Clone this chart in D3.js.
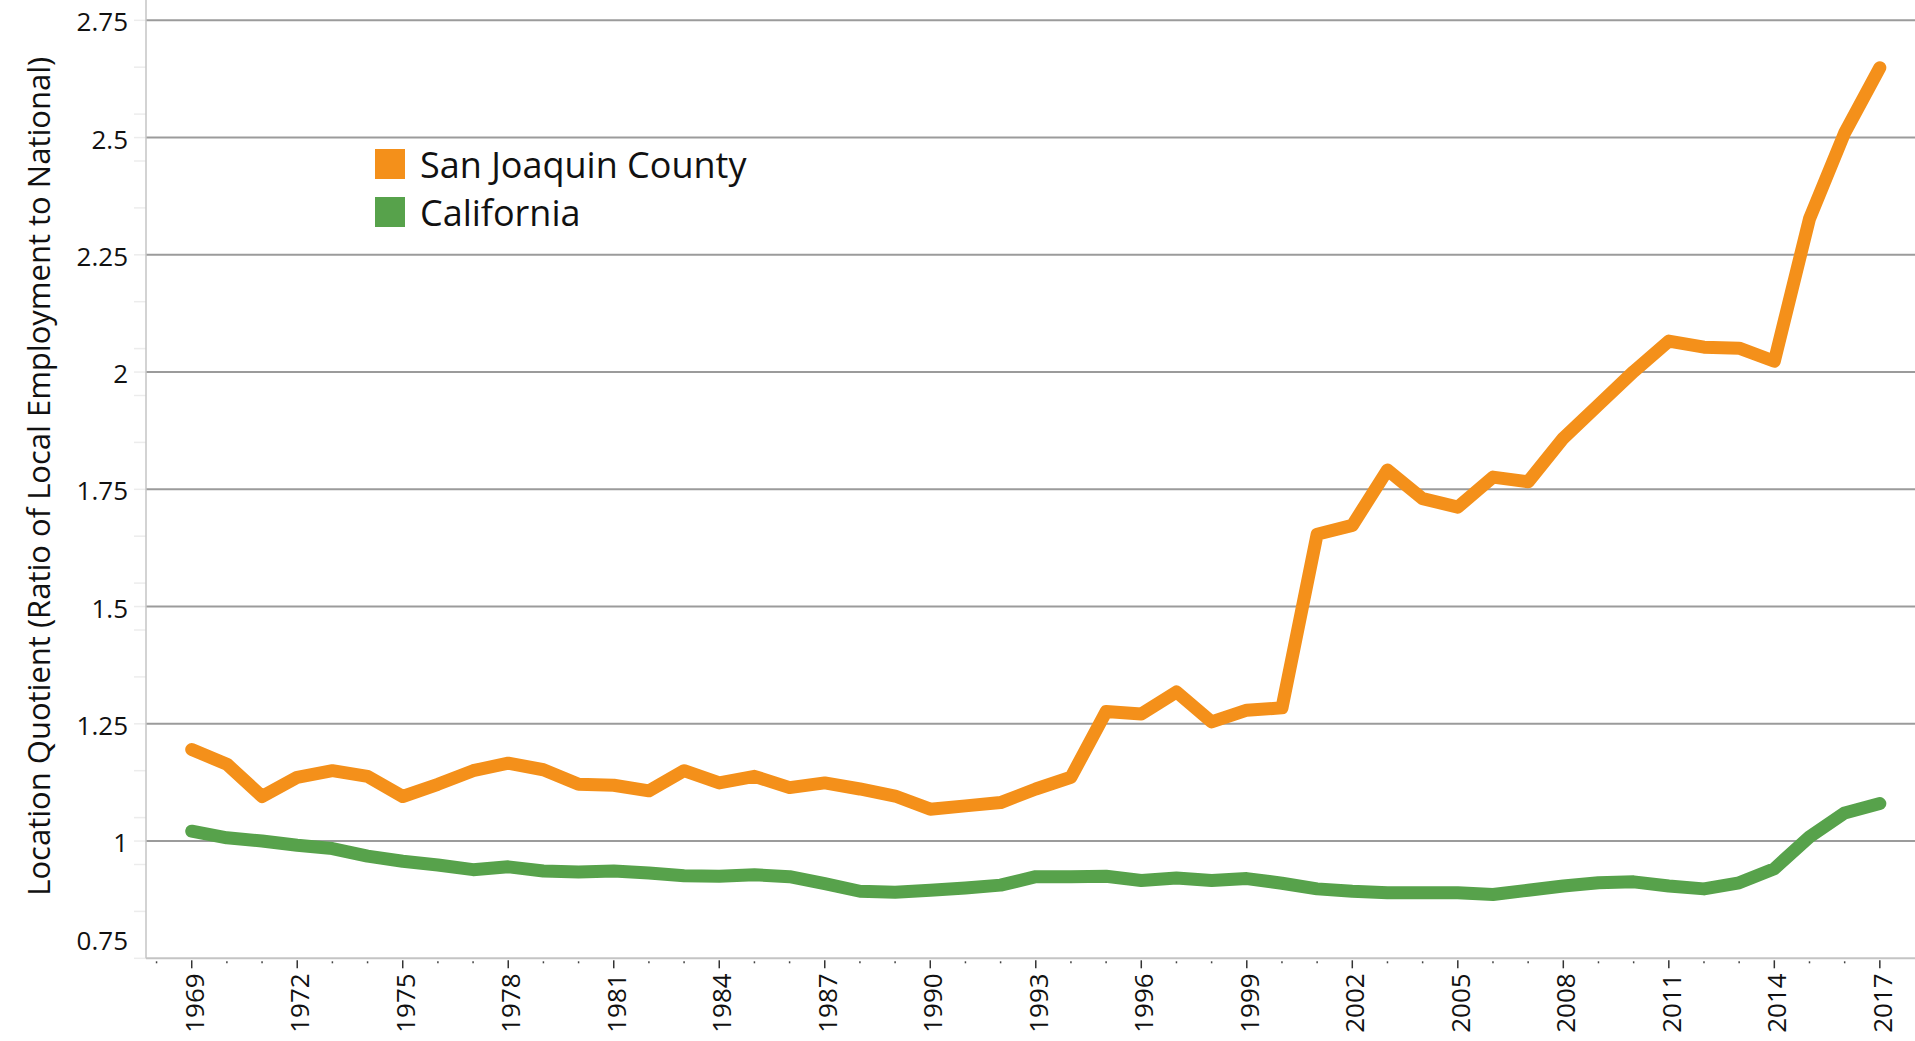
<!DOCTYPE html>
<html>
<head>
<meta charset="utf-8">
<script src="https://cdn.jsdelivr.net/npm/d3@7"></script>
<style>
    body { margin: 0; background: #fff; }
    svg { display: block; font-family: "Open Sans", sans-serif; }
</style>
</head>
<body>
<svg id="chart"></svg>
<script>
const years = [1969, 1970, 1971, 1972, 1973, 1974, 1975, 1976, 1977, 1978,
    1979, 1980, 1981, 1982, 1983, 1984, 1985, 1986, 1987, 1988,
    1989, 1990, 1991, 1992, 1993, 1994, 1995, 1996, 1997, 1998,
    1999, 2000, 2001, 2002, 2003, 2004, 2005, 2006, 2007, 2008,
    2009, 2010, 2011, 2012, 2013, 2014, 2015, 2016, 2017];

const sanJoaquin = [1.195, 1.164, 1.095, 1.136, 1.150, 1.138, 1.095, 1.121, 1.150, 1.166,
    1.152, 1.121, 1.119, 1.107, 1.150, 1.124, 1.138, 1.114, 1.124, 1.111,
    1.096, 1.068, 1.075, 1.082, 1.111, 1.136, 1.276, 1.271, 1.318, 1.254,
    1.279, 1.284, 1.654, 1.673, 1.791, 1.730, 1.712, 1.776, 1.766, 1.859,
    1.930, 2.001, 2.066, 2.053, 2.051, 2.023, 2.327, 2.510, 2.649];

const california = [1.021, 1.007, 1.000, 0.991, 0.984, 0.968, 0.957, 0.949, 0.939, 0.945,
    0.936, 0.934, 0.936, 0.932, 0.926, 0.925, 0.928, 0.924, 0.909, 0.893,
    0.891, 0.895, 0.900, 0.906, 0.924, 0.924, 0.925, 0.916, 0.921, 0.916,
    0.920, 0.910, 0.898, 0.893, 0.890, 0.890, 0.890, 0.886, 0.895, 0.904,
    0.911, 0.913, 0.904, 0.898, 0.911, 0.941, 1.009, 1.060, 1.080];

const yTicks = [0.75, 1, 1.25, 1.5, 1.75, 2, 2.25, 2.5, 2.75];
const yMinorTicks = [0.85, 0.95, 1.05, 1.15, 1.35, 1.45, 1.55, 1.65, 1.85, 1.95,
    2.05, 2.15, 2.35, 2.45, 2.55, 2.65];
const xLabelYears = [1969, 1972, 1975, 1978, 1981, 1984, 1987, 1990, 1993, 1996,
    1999, 2002, 2005, 2008, 2011, 2014, 2017];
const xMinorYears = [1968, 1970, 1971, 1973, 1974, 1976, 1977, 1979, 1980, 1982,
    1983, 1985, 1986, 1988, 1989, 1991, 1992, 1994, 1995, 1997, 1998, 2000, 2001,
    2003, 2004, 2006, 2007, 2009, 2010, 2012, 2013, 2015, 2016];

const seriesNames = ["San Joaquin County", "California"];
const seriesColors = ["#f4901a", "#57a24b"];
const yTitle = "Location Quotient (Ratio of Local Employment to National)";

function lineChart(selector, options) {
    d3.selectAll(`${selector} > *`).remove();

    const svg = d3.select(selector)
        .attr("width", options.width)
        .attr("height", options.height);

    svg.append("rect")
        .attr("width", options.width)
        .attr("height", options.height)
        .style("fill", "#fff");

    const x = d3.scaleLinear()
        .domain([1967.7, 2018])
        .range([options.plot.left, options.plot.right]);
    const y = d3.scaleLinear()
        .domain([0.75, 2.75])
        .range([options.plot.bottom, options.plot.top]);

    // Gridlines
    svg.append("g")
        .selectAll("line")
        .data(yTicks.filter(function (d) { return d > 0.75; }))
        .enter()
        .append("line")
        .attr("x1", options.plot.left)
        .attr("x2", options.plot.right)
        .attr("y1", function (d) { return y(d); })
        .attr("y2", function (d) { return y(d); })
        .style("stroke", "#9b9b9b")
        .style("stroke-width", 2);

    // Faint y ticks
    svg.append("g")
        .selectAll("line")
        .data(yTicks.concat(yMinorTicks))
        .enter()
        .append("line")
        .attr("x1", options.plot.left - 12)
        .attr("x2", options.plot.left)
        .attr("y1", function (d) { return y(d); })
        .attr("y2", function (d) { return y(d); })
        .style("stroke", "#ececec")
        .style("stroke-width", 1.5);

    // Axes lines
    svg.append("line")
        .attr("x1", options.plot.left)
        .attr("x2", options.plot.left)
        .attr("y1", 0)
        .attr("y2", options.plot.bottom)
        .style("stroke", "#c4c4c4")
        .style("stroke-width", 1.5);

    svg.append("line")
        .attr("x1", options.plot.left)
        .attr("x2", options.plot.right)
        .attr("y1", options.plot.bottom)
        .attr("y2", options.plot.bottom)
        .style("stroke", "#c4c4c4")
        .style("stroke-width", 2);

    // Y labels
    svg.append("g")
        .selectAll("text")
        .data(yTicks)
        .enter()
        .append("text")
        .attr("x", options.plot.left - 18)
        .attr("y", function (d) { return Math.min(y(d) + 11, options.plot.bottom - 8); })
        .style("text-anchor", "end")
        .style("font-size", "26px")
        .style("fill", "#111")
        .text(function (d) { return d; });

    // X ticks
    svg.append("g")
        .selectAll("line")
        .data(xLabelYears)
        .enter()
        .append("line")
        .attr("x1", function (d) { return x(d); })
        .attr("x2", function (d) { return x(d); })
        .attr("y1", options.plot.bottom + 2)
        .attr("y2", options.plot.bottom + 10)
        .style("stroke", "#333")
        .style("stroke-width", 1.5);

    svg.append("g")
        .selectAll("line")
        .data(xMinorYears)
        .enter()
        .append("line")
        .attr("x1", function (d) { return x(d); })
        .attr("x2", function (d) { return x(d); })
        .attr("y1", options.plot.bottom + 3)
        .attr("y2", options.plot.bottom + 5)
        .style("stroke", "#444")
        .style("stroke-width", 1.5);

    svg.append("g")
        .selectAll("text")
        .data(xLabelYears)
        .enter()
        .append("text")
        .attr("transform", function (d) { return `translate(${x(d)}, ${options.plot.bottom + 15}) rotate(-90)`; })
        .attr("dy", 12)
        .style("text-anchor", "end")
        .style("font-size", "26px")
        .style("fill", "#111")
        .text(function (d) { return d; });

    // Lines
    const line = d3.line()
        .x(function (d) { return x(d.year); })
        .y(function (d) { return y(d.value); });

    [sanJoaquin, california].forEach(function (values, i) {
        const data = years.map(function (yr, j) { return {year: yr, value: values[j]}; });
        svg.append("path")
            .datum(data)
            .attr("d", line)
            .style("fill", "none")
            .style("stroke", seriesColors[i])
            .style("stroke-width", 13)
            .style("stroke-linejoin", "round")
            .style("stroke-linecap", "round");
    });

    // Y title
    svg.append("text")
        .attr("transform", `translate(50, ${(options.plot.top + options.plot.bottom) / 2 - 13}) rotate(-90)`)
        .style("text-anchor", "middle")
        .style("font-size", "31px")
        .style("fill", "#111")
        .text(yTitle);

    // Legend
    const legend = svg.append("g")
        .attr("transform", "translate(375, 149)");

    legend.selectAll("rect")
        .data(seriesNames)
        .enter()
        .append("rect")
        .attr("y", function (d, i) { return 48 * i; })
        .attr("width", 30)
        .attr("height", 30)
        .style("fill", function (d, i) { return seriesColors[i]; });

    legend.selectAll("text")
        .data(seriesNames)
        .enter()
        .append("text")
        .attr("x", 45)
        .attr("y", function (d, i) { return 29 + 48 * i; })
        .style("font-size", "36px")
        .style("fill", "#111")
        .text(function (d) { return d; });
}

lineChart("#chart", {
    width: 1915,
    height: 1041,
    plot: {left: 146, right: 1915, top: 20.3, bottom: 958.3}
});
</script>
</body>
</html>
